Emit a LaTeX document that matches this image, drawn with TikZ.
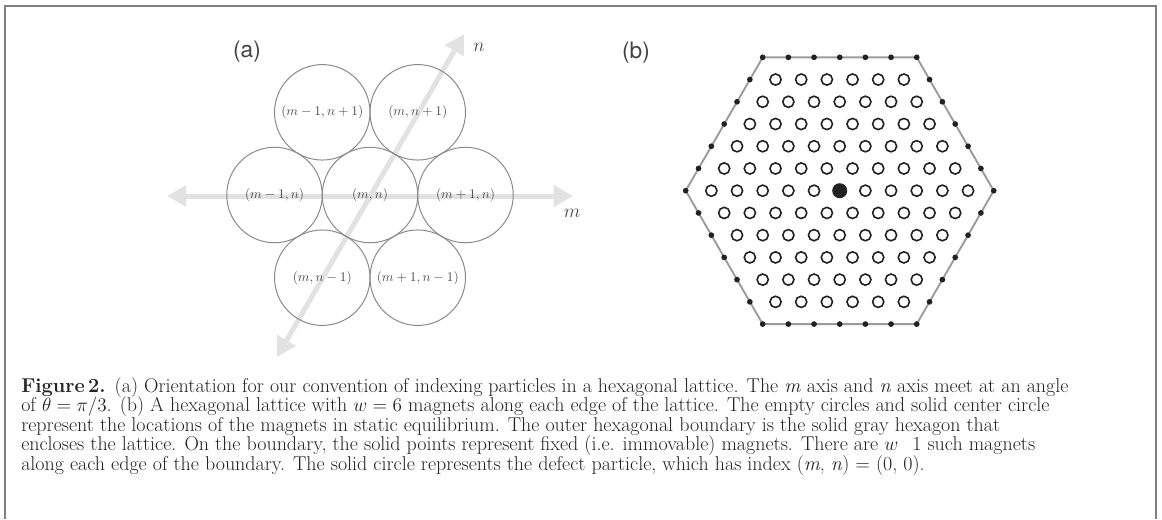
\documentclass[tikz,border=0pt]{standalone}
\usepackage{fontspec}
\usepackage{amsmath}
\usetikzlibrary{arrows.meta,calc}
\newfontfamily\panelfont{TeX Gyre Heros}
\definecolor{rim}{HTML}{808080}
\definecolor{cellc}{HTML}{8A8A8A}
\definecolor{axisc}{HTML}{E2E2E2}
\definecolor{ink}{HTML}{222222}
\definecolor{hexc}{HTML}{9A9A9A}
\definecolor{labc}{HTML}{4A4A4A}
\tikzset{
  frame/.style={draw=rim, line width=1.1pt},
  cell/.style={circle, draw=cellc, line width=0.75pt, minimum size=71.6pt,
               inner sep=0pt, font=\fontsize{10.2}{12}\selectfont, text=labc},
  axis/.style={{Triangle[length=14.5pt,width=15.5pt]}-{Triangle[length=14.5pt,width=15.5pt]},
               line width=3.75pt, draw=axisc},
  axlbl/.style={font=\fontsize{15}{15}\selectfont, text=labc},
  panel/.style={font=\panelfont\fontsize{17}{17}\selectfont, text=ink!85},
  site/.style={circle, draw=ink, line width=1.2pt, minimum size=8.4pt, inner sep=0pt},
  defect/.style={circle, fill=ink, minimum size=11.25pt, inner sep=0pt},
  fixed/.style={circle, fill=ink, minimum size=4.3pt, inner sep=0pt},
  hexline/.style={draw=hexc, line width=1.4pt, line join=round},
  capt/.style={anchor=base west, inner sep=0pt, font=\fontsize{15}{18}\selectfont, text=ink}
}
\begin{document}
\begin{tikzpicture}[x=0.75pt,y=-0.75pt]
  \useasboundingbox (0,0) rectangle (1162,519);
  \draw[frame] (5,519) -- (5,6) -- (1156,6) -- (1156,519);

  \node[panel] (pa) at (247,52) {(a)};
  \coordinate (mW) at (167,196);
  \coordinate (mE) at (573,196);
  \coordinate (nS) at (277,357);
  \coordinate (nN) at (464,34);
  \draw[axis] (mW) -- (mE);
  \draw[axis] (nS) -- (nN);
  \foreach \nm/\i/\j/\lab in {c/0/0/{(m,n)}, w/-1/0/{(m-1,n)}, e/1/0/{(m+1,n)},
      nw/-1/1/{(m-1,n+1)}, ne/0/1/{(m,n+1)}, sw/0/-1/{(m,n-1)}, se/1/-1/{(m+1,n-1)}} {
    \node[cell] (\nm) at ({370+95.5*(\i+0.5*\j)},{195-82.7*\j}) {$\lab$};
  }
  \node[axlbl] (mlab) at (572,213) {$m$};
  \node[axlbl] (nlab) at (479,47) {$n$};

  \node[panel] (pb) at (636,53) {(b)};
  \coordinate (hc) at (839.7,190.7);
  \foreach \k in {0,...,5}
    \coordinate (hv\k) at ($(hc)+(\k*60:154)$);
  \draw[hexline] (hv0) -- (hv1) -- (hv2) -- (hv3) -- (hv4) -- (hv5) -- cycle;
  \foreach \n in {-6,...,6} {
    \pgfmathtruncatemacro\mlo{max(-6,-6-\n)}
    \pgfmathtruncatemacro\mhi{min(6,6-\n)}
    \foreach \m in {\mlo,...,\mhi} {
      \pgfmathtruncatemacro\rr{max(abs(\m),abs(\n),abs(\m+\n))}
      \ifnum\rr=6
        \node[fixed] (b\m\n) at ($(hc)+({25.67*(\m+0.5*\n)},{-22.23*\n})$) {};
      \else
        \ifnum\rr=0
          \node[defect] (s\m\n) at (hc) {};
        \else
          \node[site] (s\m\n) at ($(hc)+({25.67*(\m+0.5*\n)},{-22.23*\n})$) {};
        \fi
      \fi
    }
  }

  \foreach \i/\y/\t in {
    1/392/{\textbf{Figure\,2.}\hspace{0.45em}(a) Orientation for our convention of indexing particles in a hexagonal lattice. The \textit{m} axis and \textit{n} axis meet at an angle},
    2/411.5/{of $\theta=\pi/3$. (b) A hexagonal lattice with $w=6$ magnets along each edge of the lattice. The empty circles and solid center circle},
    3/431/{represent the locations of the magnets in static equilibrium. The outer hexagonal boundary is the solid gray hexagon that},
    4/450.5/{encloses the lattice. On the boundary, the solid points represent fixed (i.e. immovable) magnets. There are $w$\hspace{0.7em}1 such magnets},
    5/470/{along each edge of the boundary. The solid circle represents the defect particle, which has index (\textit{m}, \textit{n}) $=$ (0, 0).}} {
    \node[capt] (cap\i) at (21,\y) {\t};
  }
\end{tikzpicture}
\end{document}
